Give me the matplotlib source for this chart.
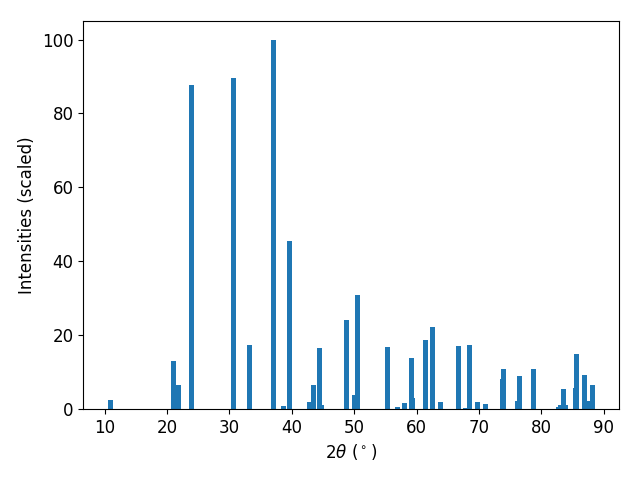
import numpy as np
import matplotlib
matplotlib.use("Agg")
import matplotlib.pyplot as plt

# peak positions (2 theta, degrees) and scaled intensities
two_theta = [10.88, 21.1, 21.9, 23.86, 30.6, 33.16, 37.0, 38.6, 39.65,
             42.9, 43.4, 44.5, 44.7, 48.7, 50.0, 50.47, 55.27, 56.9, 58.0,
             59.1, 59.4, 61.36, 62.6, 63.77, 66.65, 67.8, 68.4, 69.7, 71.1,
             73.7, 73.86, 76.1, 76.4, 78.7, 82.7, 83.0, 83.6, 83.8, 85.4,
             85.56, 86.85, 87.3, 88.1]
intensity = [2.4, 13.0, 6.5, 87.8, 89.7, 17.3, 100.0, 0.8, 45.5,
             1.9, 6.5, 16.5, 1.1, 24.1, 3.8, 30.9, 16.8, 0.5, 1.6,
             13.8, 3.0, 18.7, 22.2, 1.9, 17.1, 0.3, 17.3, 1.9, 1.4,
             8.1, 10.8, 2.2, 8.9, 10.8, 0.5, 1.1, 5.4, 1.1, 5.7,
             14.9, 9.2, 2.2, 6.5]

plt.rcParams['font.size'] = 12

fig, ax = plt.subplots(figsize=(6.4, 4.8), dpi=100)
ax.bar(two_theta, intensity, width=0.8, color='tab:blue')
ax.set_xlabel(r'$2\theta$ ($^\circ$)')
ax.set_ylabel('Intensities (scaled)')
fig.subplots_adjust(left=0.13, right=0.967, bottom=0.148, top=0.956)
fig.savefig('out.png')
